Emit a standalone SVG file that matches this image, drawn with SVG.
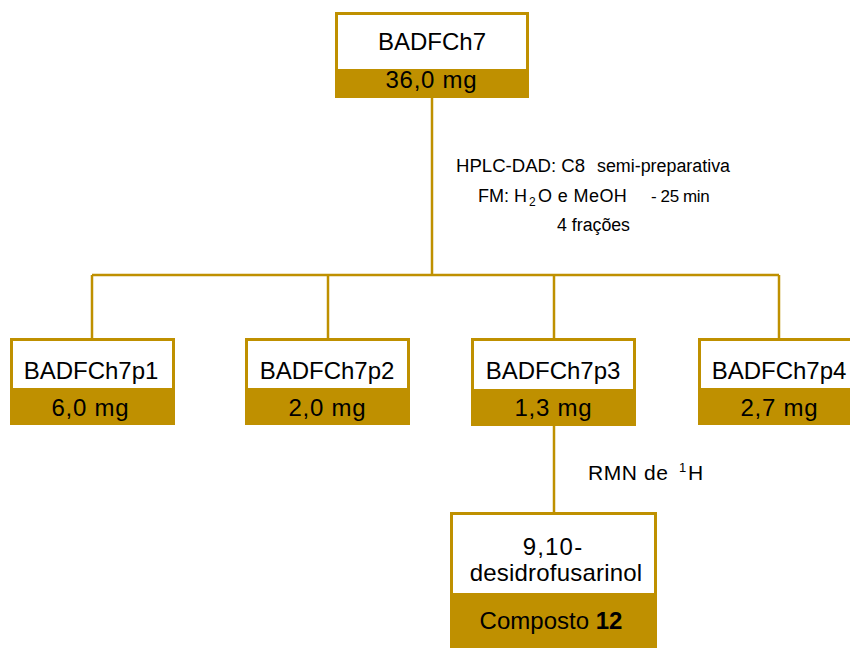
<svg xmlns="http://www.w3.org/2000/svg" width="850" height="648" viewBox="0 0 850 648">
  <style>
    .frame { fill: #BF9000; }
    .inner { fill: #FFFFFF; }
    .wire { fill: none; stroke: #BF9000; stroke-width: 2.5; }
    .name { font-family: "Liberation Sans", Arial, sans-serif; font-size: 24px; fill: #000; text-anchor: middle; }
    .note { font-family: "Liberation Sans", Arial, sans-serif; font-size: 18px; fill: #000; }
    .rmn { font-family: "Liberation Sans", Arial, sans-serif; font-size: 21px; fill: #000; }
  </style>

  <rect width="850" height="648" fill="#FFFFFF"/>

  <!-- connectors -->
  <g id="connectors">
    <path class="wire" d="M432,97 V275"/>
    <path class="wire" d="M92,275 H779"/>
    <path class="wire" d="M92,275 V338"/>
    <path class="wire" d="M328,275 V338"/>
    <path class="wire" d="M554,275 V338"/>
    <path class="wire" d="M779,275 V338"/>
    <path class="wire" d="M554,425 V513"/>
  </g>

  <!-- HPLC annotation -->
  <g id="hplc-label">
    <text class="note" x="456" y="172" textLength="129" lengthAdjust="spacingAndGlyphs">HPLC-DAD: C8</text>
    <text class="note" x="597" y="172" textLength="133" lengthAdjust="spacingAndGlyphs">semi-preparativa</text>
    <text class="note" y="202"><tspan x="478">FM: H</tspan><tspan x="529" dy="4" font-size="12">2</tspan><tspan x="538" dy="-4" letter-spacing="0.4">O e MeOH</tspan><tspan x="651" font-size="17" letter-spacing="-0.4">- 25 min</tspan></text>
    <text class="note" x="557" y="231" textLength="73" lengthAdjust="spacingAndGlyphs">4 frações</text>
  </g>

  <!-- NMR annotation -->
  <g id="rmn-label">
    <text class="rmn" y="480"><tspan x="588" letter-spacing="0.6">RMN de</tspan><tspan x="679" dy="-8" font-size="13">1</tspan><tspan x="688" dy="8">H</tspan></text>
  </g>

  <!-- parent fraction -->
  <g id="node-badfch7">
    <rect class="frame" x="335" y="12" width="194" height="86"/>
    <rect class="inner" x="338" y="15" width="188" height="54"/>
    <text class="name" x="432" y="50">BADFCh7</text>
    <text class="name" x="431" y="88" textLength="91" lengthAdjust="spacing">36,0 mg</text>
  </g>

  <!-- sub-fractions -->
  <g id="node-p1">
    <rect class="frame" x="10" y="338" width="165" height="87"/>
    <rect class="inner" x="13" y="341" width="159" height="47"/>
    <text class="name" x="91" y="379">BADFCh7p1</text>
    <text class="name" x="90" y="416" textLength="77" lengthAdjust="spacing">6,0 mg</text>
  </g>

  <g id="node-p2">
    <rect class="frame" x="245" y="338" width="165" height="87"/>
    <rect class="inner" x="248" y="341" width="159" height="47"/>
    <text class="name" x="327" y="379">BADFCh7p2</text>
    <text class="name" x="327" y="416" textLength="77" lengthAdjust="spacing">2,0 mg</text>
  </g>

  <g id="node-p3">
    <rect class="frame" x="471" y="338" width="165" height="88"/>
    <rect class="inner" x="474" y="341" width="159" height="48"/>
    <text class="name" x="553" y="379">BADFCh7p3</text>
    <text class="name" x="553" y="416" textLength="77" lengthAdjust="spacing">1,3 mg</text>
  </g>

  <g id="node-p4">
    <rect class="frame" x="698" y="338" width="165" height="87"/>
    <rect class="inner" x="701" y="341" width="159" height="47"/>
    <text class="name" x="779" y="379">BADFCh7p4</text>
    <text class="name" x="779" y="416" textLength="77" lengthAdjust="spacing">2,7 mg</text>
  </g>

  <!-- isolated compound -->
  <g id="node-compound">
    <rect class="frame" x="450" y="512" width="207" height="140"/>
    <rect class="inner" x="453" y="515" width="201" height="78"/>
    <text class="name" font-size="23"><tspan x="553" y="555" letter-spacing="1.2">9,10-</tspan><tspan x="556" y="581" letter-spacing="0.2">desidrofusarinol</tspan></text>
    <text class="name" x="551" y="629">Composto <tspan font-weight="bold">12</tspan></text>
  </g>
</svg>
